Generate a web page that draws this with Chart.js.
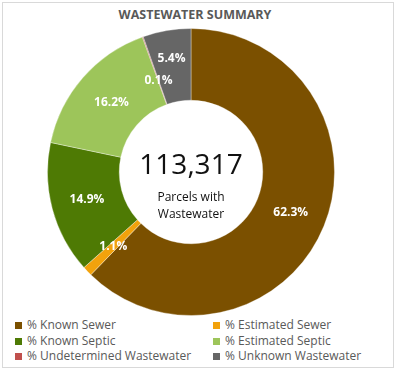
<!DOCTYPE html>
<html lang="en">
<head>
  <meta charset="UTF-8" />
  <title>Wastewater Summary</title>
  <script src="https://cdn.jsdelivr.net/npm/chart.js"></script>
  <style>
    body {
      margin: 0;
      width: 400px;
      height: 370px;
      font-family: "Open Sans", sans-serif;
      background: #fff;
      position: relative;
      overflow: hidden;
    }
    #frame {
      position: absolute;
      left: 2px;
      top: 2px;
      width: 390px;
      height: 364px;
      border: 1px solid #d9d9d9;
    }
    #title {
      position: absolute;
      left: 0;
      width: 390px;
      top: 6px;
      text-align: center;
      font-size: 12.5px;
      font-weight: bold;
      color: #595959;
    }
    #chart-box {
      position: absolute;
      left: 47px;
      top: 28px;
      width: 288px;
      height: 288px;
    }
    #legend {
      position: absolute;
      left: 15px;
      top: 317px;
      display: grid;
      grid-template-columns: 198px 180px;
      row-gap: 0;
      font-size: 12px;
      color: #595959;
    }
    #legend div {
      height: 15.5px;
      line-height: 15.5px;
      white-space: nowrap;
    }
    #legend span {
      display: inline-block;
      width: 7px;
      height: 7px;
      margin-right: 5px;
      vertical-align: 0px;
    }
  </style>
</head>
<body>
  <div id="frame"></div>
  <div id="title">WASTEWATER SUMMARY</div>
  <div id="chart-box"><canvas id="donut"></canvas></div>
  <div id="legend"></div>

  <script>
    // categories and values (percent of parcels)
    const categories = ['% Known Sewer', '% Estimated Sewer', '% Known Septic',
                        '% Estimated Septic', '% Undetermined Wastewater', '% Unknown Wastewater'];
    const shares = [62.3, 1.1, 14.9, 16.2, 0.1, 5.4];
    const colors = ['#7B5000', '#F2A20C', '#4E7A04', '#9DC55A', '#C0504D', '#666666'];
    const totalParcels = '113,317';
    const centerLines = ['Parcels with', 'Wastewater'];

    // label radial nudge (Excel moves the two tiny slices apart)
    const labelRadius = [1, 1, 1, 0.98, 0.9, 1.07];

    // legend, two columns
    const legend = document.getElementById('legend');
    categories.forEach((c, i) => {
      const d = document.createElement('div');
      d.innerHTML = `<span style="background:${colors[i]}"></span>${c}`;
      legend.appendChild(d);
    });

    const sliceLabels = {
      id: 'sliceLabels',
      afterDatasetsDraw(chart) {
        const ctx = chart.ctx;
        const meta = chart.getDatasetMeta(0);
        ctx.save();
        ctx.fillStyle = '#ffffff';
        ctx.font = 'bold 12px "Open Sans"';
        ctx.textAlign = 'center';
        ctx.textBaseline = 'middle';
        meta.data.forEach((arc, i) => {
          const p = arc.getProps(['x', 'y', 'startAngle', 'endAngle', 'innerRadius', 'outerRadius'], true);
          const a = (p.startAngle + p.endAngle) / 2;
          const r = (p.innerRadius + p.outerRadius) / 2 * labelRadius[i];
          ctx.fillText(shares[i].toFixed(1) + '%', p.x + Math.cos(a) * r, p.y + Math.sin(a) * r);
        });
        // centre text
        const c = meta.data[0];
        ctx.fillStyle = '#111111';
        ctx.font = '28px "Open Sans"';
        ctx.fillText(totalParcels, c.x, c.y - 6);
        ctx.font = '12px "Open Sans"';
        ctx.fillText(centerLines[0], c.x, c.y + 26);
        ctx.fillText(centerLines[1], c.x, c.y + 43);
        ctx.restore();
      }
    };

    new Chart(document.getElementById('donut'), {
      type: 'doughnut',
      data: {
        labels: categories,
        datasets: [{
          data: shares,
          backgroundColor: colors,
          borderColor: 'rgba(255,255,255,0.35)',
          borderWidth: 1
        }]
      },
      options: {
        responsive: true,
        maintainAspectRatio: false,
        animation: false,
        cutout: '50%',
        plugins: {
          legend: { display: false },
          title: { display: false },
          tooltip: { enabled: false }
        }
      },
      plugins: [sliceLabels]
    });
  </script>
</body>
</html>
